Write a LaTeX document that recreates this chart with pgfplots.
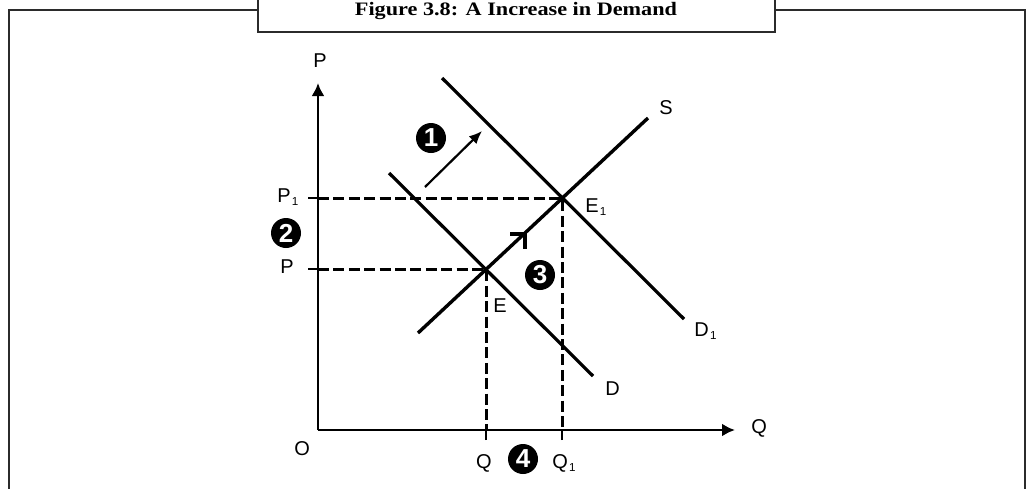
\documentclass[border=0pt]{standalone}
\usepackage{fontspec}
\setmainfont{Liberation Sans}
\newfontfamily\titlefont{Liberation Serif}
\usepackage{graphicx}
\usepackage{pgfplots}
\pgfplotsset{compat=1.18}
\usetikzlibrary{arrows.meta}
\definecolor{framec}{HTML}{2B2B2B}
\newcommand{\sub}[1]{\kern0.6pt\raisebox{-1.6pt}{\fontsize{5.8}{6}\selectfont #1}}
\begin{document}
\begin{tikzpicture}
\useasboundingbox (0,0) rectangle (514.5pt,-244pt);
\begin{scope}[x=0.5pt,y=-0.5pt]
\draw[framec, line width=1.3pt] (9,520) -- (9,10) -- (258,10);
\draw[framec, line width=1.3pt] (775,10) -- (1025,10) -- (1025,520);
\draw[framec, line width=1.3pt, fill=white] (258,-10) -- (258,32) -- (775,32) -- (775,-10);
\node[anchor=base, font=\titlefont\bfseries\fontsize{9.5}{11}\selectfont, inner sep=0pt] at (516,15) {\scalebox{1.17}[1]{Figure 3.8: A Increase in Demand}};
\end{scope}
\begin{axis}[
  at={(159pt,-215pt)}, anchor=south west,
  scale only axis, width=208.5pt, height=173.5pt,
  xmin=0, xmax=417, ymin=0, ymax=347,
  axis lines=left,
  axis line style={line width=1.4pt, -{Latex[length=6.5pt,width=6.5pt]}},
  clip=false,
  xtick={168,244}, ytick={161,232},
  xticklabels={}, yticklabels={},
  tick align=outside, major tick length=5pt,
  every tick/.style={black, line width=1.3pt},
  every node/.style={font=\fontsize{9.8}{11}\selectfont},
]
% supply and demand curves
\addplot[black, line width=1.7pt] coordinates {(100,97) (330,312)};
\addplot[black, line width=1.6pt] coordinates {(71,257) (275,54)};
\addplot[black, line width=1.6pt] coordinates {(124,352) (366,111)};
% guide lines
\addplot[black, line width=1.5pt, dash pattern=on 5.5pt off 2.2pt] coordinates {(0,232) (244,232) (244,0)};
\addplot[black, line width=1.5pt, dash pattern=on 5.5pt off 2.2pt] coordinates {(0,161) (168,161) (168,0)};
% shift arrow
\draw[line width=1.1pt, -{Latex[length=6.5pt,width=5.5pt]}] (axis cs:107,243) -- (axis cs:164,299);
\draw[line width=1.7pt] (axis cs:192,196) -- (axis cs:207,196) -- (axis cs:207,181);
% labels
\node[anchor=base west, inner sep=0pt] at (axis cs:-5,363) {P};
\node[anchor=base west, inner sep=0pt] at (axis cs:433,-3) {Q};
\node[anchor=base west, inner sep=0pt] at (axis cs:-24,-25) {O};
\node[anchor=base west, inner sep=0pt] at (axis cs:-41,228) {P\sub{1}};
\node[anchor=base west, inner sep=0pt] at (axis cs:-38,157) {P};
\node[anchor=base, inner sep=0pt] at (axis cs:166,-38) {Q};
\node[anchor=base west, inner sep=0pt] at (axis cs:234,-38) {Q\sub{1}};
\node[anchor=base west, inner sep=0pt] at (axis cs:175,118) {E};
\node[anchor=base west, inner sep=0pt] at (axis cs:267,218) {E\sub{1}};
\node[anchor=base west, inner sep=0pt] at (axis cs:341,316) {S};
\node[anchor=base west, inner sep=0pt] at (axis cs:376,94) {D\sub{1}};
\node[anchor=base west, inner sep=0pt] at (axis cs:287,35) {D};
% numbered markers
\tikzset{num/.style={circle, fill=black, minimum size=15pt, inner sep=0pt, text=white, font=\bfseries\fontsize{13}{13}\selectfont}}
\node[num] at (axis cs:113,292) {1};
\node[num] at (axis cs:-32,197) {2};
\node[num] at (axis cs:222,155) {3};
\node[num] at (axis cs:205,-29) {4};
\end{axis}
\end{tikzpicture}
\end{document}
